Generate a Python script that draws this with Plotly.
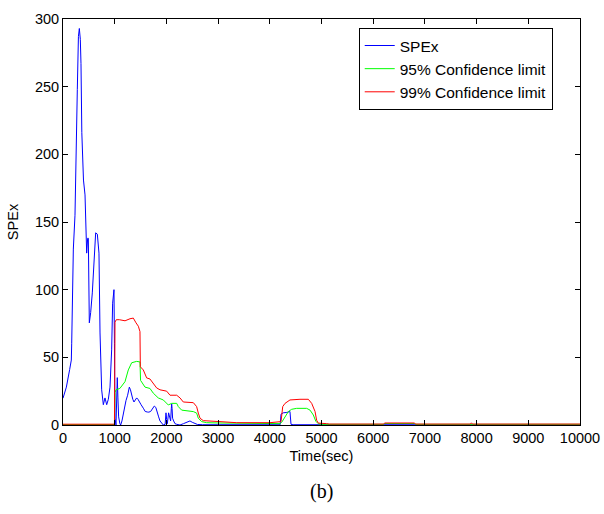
import plotly.graph_objects as go

# SPEx series
spe_x = [0, 65, 129, 161, 168, 193, 200, 232, 255, 277, 298, 316, 335, 348, 364, 380, 396, 426,
         458, 477, 490, 509, 535, 567, 600, 632, 664, 696, 716, 748, 780, 812, 845, 877, 909, 941,
         960, 986, 995, 1005, 1025, 1050, 1062, 1076, 1100, 1115, 1140, 1167, 1190, 1218, 1250,
         1283, 1305, 1328, 1350, 1373, 1400, 1425, 1450, 1476, 1510, 1554, 1590, 1631, 1660, 1695,
         1730, 1766, 1795, 1824, 1850, 1876, 1910, 1940, 1975, 1992, 2005, 2018, 2043, 2060, 2082,
         2095, 2102, 2110, 2120, 2140, 2166, 2200, 2263, 2330, 2392, 2456, 2500, 2553, 2600, 2700,
         3000, 3500, 4000, 4200, 4217, 4260, 4330, 4390, 4410, 4450, 5000, 6200, 6250, 6800, 6850,
         8000, 10000]
spe_y = [19.8, 28, 41, 48, 60, 126, 130, 155, 217, 248, 287, 293, 285, 267, 216, 200, 181, 170,
         127, 138, 138, 75.5, 83, 97.6, 122, 142, 141, 127, 68, 26, 15, 20, 15, 19, 28, 55.5,
         90, 100, 60, 5, 0, 35, 20, 6, 1, 0, 3, 9, 14, 18, 22,
         28, 26, 21, 19, 17, 19, 20, 19, 17, 15, 12.4, 10, 9.6, 9.5, 10,
         12, 14, 13, 10, 6, 3, 1, 0, 0.5, 9, 4, 1, 9, 5, 3,
         12, 15.6, 12, 5, 3, 1, 0.5, 0, 1, 2, 3, 2, 1, 0.4, 0.2,
         0.2, 0.2, 0.2, 0.2, 8, 9, 9.3, 10, 0.5, 0.2, 0.2, 0.2, 0.6, 0.6, 0.2,
         0.2, 0.2]

# 95% confidence limit
c95_x = [0, 995, 1006, 1025, 1100, 1199, 1263, 1328, 1425, 1489, 1500, 1586, 1682, 1747, 1843,
         1940, 2037, 2102, 2199, 2230, 2295, 2521, 2585, 2617, 2682, 2779, 3000, 3500, 4200, 4230,
         4295, 4360, 4423, 4520, 4713, 4778, 4842, 4890, 4939, 5000, 6200, 6220, 6800, 6820, 10000]
c95_y = [0.3, 0.3, 24, 26, 27, 32, 40.7, 46, 47, 46.6, 33, 28, 27, 23.5, 20,
         18.5, 14.8, 16, 16, 13.6, 11, 9.9, 8.8, 5, 2.5, 1.7, 1.5, 1.2, 1.0, 2,
         6, 10, 11.6, 12.3, 12.3, 11, 7.4, 2.8, 0.9, 0.5, 0.5, 1.1, 1.1, 0.5, 0.5]

# 99% confidence limit
c99_x = [0, 995, 1006, 1030, 1090, 1200, 1296, 1360, 1412, 1457, 1489, 1496, 1553, 1618, 1682,
         1747, 1811, 1876, 2005, 2070, 2199, 2263, 2327, 2521, 2585, 2617, 2650, 2714, 2972, 3037,
         3360, 4000, 4217, 4250, 4295, 4390, 4584, 4745, 4810, 4875, 4906, 4939, 5100, 5150, 6200,
         6220, 6800, 6820, 7880, 7900, 7920, 10000]
c99_y = [0.6, 0.6, 76, 77.8, 77.8, 77, 78.5, 79, 75.5, 73, 69, 43, 40.7, 34.8, 34,
         31, 27.4, 26, 25, 22, 22, 20, 17, 16.5, 13.6, 8.8, 5, 3.2, 3, 2.5,
         1.7, 1.7, 2.5, 13.6, 16, 18.5, 19, 19, 16, 10, 3.5, 1.4, 1.0, 0.7, 0.7,
         1.5, 1.5, 0.7, 0.7, 1.6, 0.7, 0.7]

x_ticks = list(range(0, 10001, 1000))
y_ticks = list(range(0, 301, 50))

FONT = "Liberation Sans, Arial"

fig = go.Figure()
fig.add_trace(go.Scatter(x=spe_x, y=spe_y, mode="lines", name="SPEx",
                         line=dict(color="#0000ff", width=1), legendgroup="a"))
fig.add_trace(go.Scatter(x=c95_x, y=c95_y, mode="lines", name="95% Confidence limit",
                         line=dict(color="#00ff00", width=1), legendgroup="b"))
fig.add_trace(go.Scatter(x=c99_x, y=c99_y, mode="lines", name="99% Confidence limit",
                         line=dict(color="#ff0000", width=1), legendgroup="c"))

axis_common = dict(showline=True, linecolor="black", linewidth=1, mirror="ticks",
                   ticks="inside", ticklen=5, tickcolor="black", showgrid=False,
                   zeroline=False, automargin=False,
                   tickfont=dict(family=FONT, size=14.5, color="black"))

fig.update_layout(
    width=604, height=514,
    margin=dict(l=63, r=24, t=19, b=89, autoexpand=False),
    paper_bgcolor="white", plot_bgcolor="white",
    font=dict(family=FONT, size=14.5, color="black"),
    xaxis=dict(range=[0, 10000], tickvals=x_ticks, ticktext=[str(v) for v in x_ticks],
               title=dict(text="Time(sec)", standoff=5, font=dict(size=14.5)), **axis_common),
    yaxis=dict(range=[0, 300], tickvals=y_ticks, ticktext=[str(v) for v in y_ticks],
               title=dict(text="SPEx", standoff=12, font=dict(size=14.5)), **axis_common),
    legend=dict(x=0.572, y=0.978, xanchor="left", yanchor="top",
                bordercolor="black", borderwidth=1, bgcolor="white",
                font=dict(family=FONT, size=15.5),
                tracegroupgap=0, entrywidth=210, entrywidthmode="pixels"),
    showlegend=True,
)

fig.add_annotation(text="(b)", xref="paper", yref="paper", x=0.5, y=-0.165,
                   showarrow=False, yanchor="middle",
                   font=dict(family="Liberation Serif, Times New Roman", size=20, color="black"))

fig.write_html("out.html")
